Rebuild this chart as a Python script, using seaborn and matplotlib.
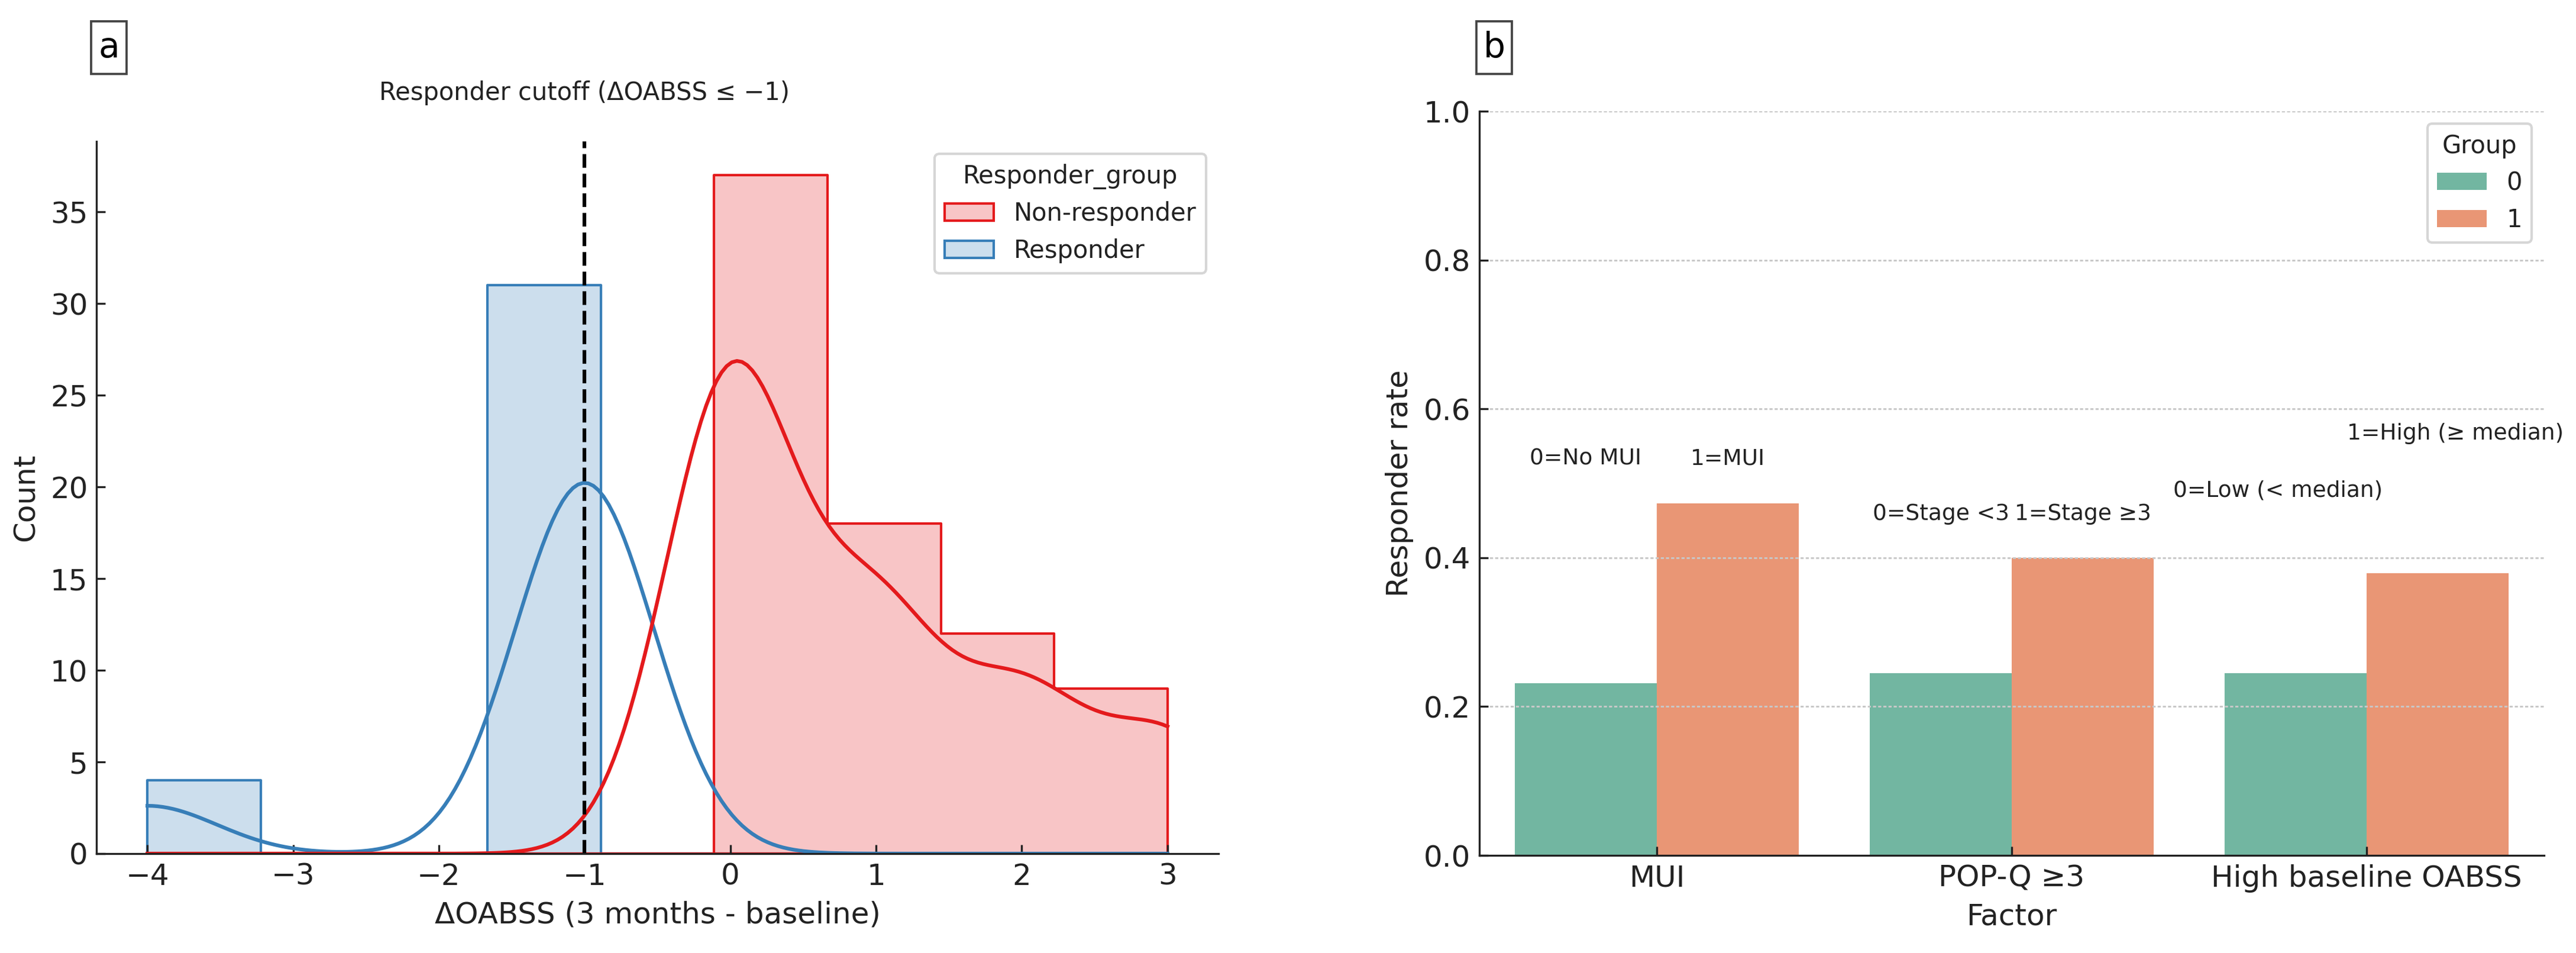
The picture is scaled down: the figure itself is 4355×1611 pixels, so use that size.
import numpy as np
import pandas as pd
import matplotlib
matplotlib.use("Agg")
import matplotlib.pyplot as plt
from matplotlib.patches import Rectangle
import seaborn as sns

# ---------------- data: panel a ----------------
delta_values_nonresponder = [0, 1, 2, 3]
delta_counts_nonresponder = [37, 18, 12, 9]
delta_values_responder = [-4, -1]
delta_counts_responder = [4, 31]
group_labels = ["Non-responder", "Responder"]
cutoff = -1

# ---------------- data: panel b ----------------
factors = ["MUI", "POP-Q \u22653", "High baseline OABSS"]
group_levels = ["0", "1"]
rate_group0 = [0.231, 0.245, 0.245]
rate_group1 = [0.473, 0.400, 0.379]
annot_group0 = ["0=No MUI", "0=Stage <3", "0=Low (< median)"]
annot_group1 = ["1=MUI", "1=Stage \u22653", "1=High (\u2265 median)"]

# annotation placement (layout only)
annot_dx0 = [0.0, 0.0, -0.05]
annot_dx1 = [0.0, 0.0, 0.05]
annot_y0 = [0.533, 0.459, 0.490]
annot_y1 = [0.533, 0.459, 0.567]

INK = "#222222"
plt.rcParams.update({
    "font.family": ["DejaVu Sans"],
    "font.size": 10,
    "axes.labelsize": 12,
    "xtick.labelsize": 12,
    "ytick.labelsize": 12,
    "xtick.direction": "in",
    "ytick.direction": "in",
    "axes.spines.top": False,
    "axes.spines.right": False,
    "text.color": INK,
    "axes.labelcolor": INK,
    "xtick.color": INK,
    "ytick.color": INK,
    "axes.edgecolor": INK,
})

W, H, DPI = 4355, 1611, 300
fig = plt.figure(figsize=(W / DPI, H / DPI), dpi=DPI)

# ---------------- panel a ----------------
ax1 = fig.add_axes([163 / W, 1 - 1443 / H, (2060 - 163) / W, (1443 - 239) / H])
vals = np.concatenate([np.repeat(delta_values_nonresponder, delta_counts_nonresponder),
                       np.repeat(delta_values_responder, delta_counts_responder)])
grp = ([group_labels[0]] * int(sum(delta_counts_nonresponder)) +
       [group_labels[1]] * int(sum(delta_counts_responder)))
df_a = pd.DataFrame({"delta": vals, "Responder_group": grp})
set1 = sns.color_palette("Set1", 2)
sns.histplot(data=df_a, x="delta", hue="Responder_group", hue_order=group_labels,
             palette={group_labels[0]: set1[0], group_labels[1]: set1[1]},
             bins=9, kde=True, element="step", ax=ax1)
ax1.axvline(cutoff, color="black", linestyle="--", linewidth=1.5)
ax1.text(cutoff, 1.068, "Responder cutoff (\u0394OABSS \u2264 \u22121)",
         transform=ax1.get_xaxis_transform(), ha="center", va="center", fontsize=10)
ax1.set_xlabel("\u0394OABSS (3 months - baseline)")
ax1.set_ylabel("Count")
sns.move_legend(ax1, "upper right", fontsize=10, title_fontsize=10)

# ---------------- panel b ----------------
ax2 = fig.add_axes([2501 / W, 1 - 1446 / H, (4301 - 2501) / W, (1446 - 188) / H])
df_b = pd.DataFrame({
    "Factor": factors + factors,
    "Group": [group_levels[0]] * len(factors) + [group_levels[1]] * len(factors),
    "Responder rate": rate_group0 + rate_group1,
})
sns.barplot(data=df_b, x="Factor", y="Responder rate", hue="Group", hue_order=group_levels,
            order=factors, palette=sns.color_palette("Set2", 2), errorbar=None, ax=ax2)
ax2.set_ylim(0, 1.0)
ax2.yaxis.grid(True, color="#c8c8c8", linewidth=0.7, linestyle=(0, (1.8, 1.2)))
ax2.set_axisbelow("line")
sns.move_legend(ax2, "upper right", fontsize=10, title_fontsize=10)

bars = [p for p in ax2.patches if p.get_width() > 0 and p.get_height() > 0]
bars0 = sorted(bars[:len(factors)], key=lambda p: p.get_x())
bars1 = sorted(bars[len(factors):2 * len(factors)], key=lambda p: p.get_x())
for i in range(len(factors)):
    for p, lab, dx, yy in ((bars0[i], annot_group0[i], annot_dx0[i], annot_y0[i]),
                           (bars1[i], annot_group1[i], annot_dx1[i], annot_y1[i])):
        ax2.text(p.get_x() + p.get_width() / 2 + dx, yy, lab, ha="center", va="center",
                 fontsize=9, clip_on=False)

# ---------------- panel labels (boxed) ----------------
for x0, x1, lab in ((154, 214, "a"), (2496, 2556, "b")):
    y0, y1 = 36, 125
    fig.patches.append(Rectangle((x0 / W, 1 - y1 / H), (x1 - x0) / W, (y1 - y0) / H,
                                 transform=fig.transFigure, facecolor="white",
                                 edgecolor="#444444", linewidth=0.9))
    fig.text((x0 + x1) / 2 / W, 1 - (y0 + y1) / 2 / H, lab, ha="center", va="center",
             fontsize=14, color="black")

fig.savefig("out.png", dpi=DPI)
